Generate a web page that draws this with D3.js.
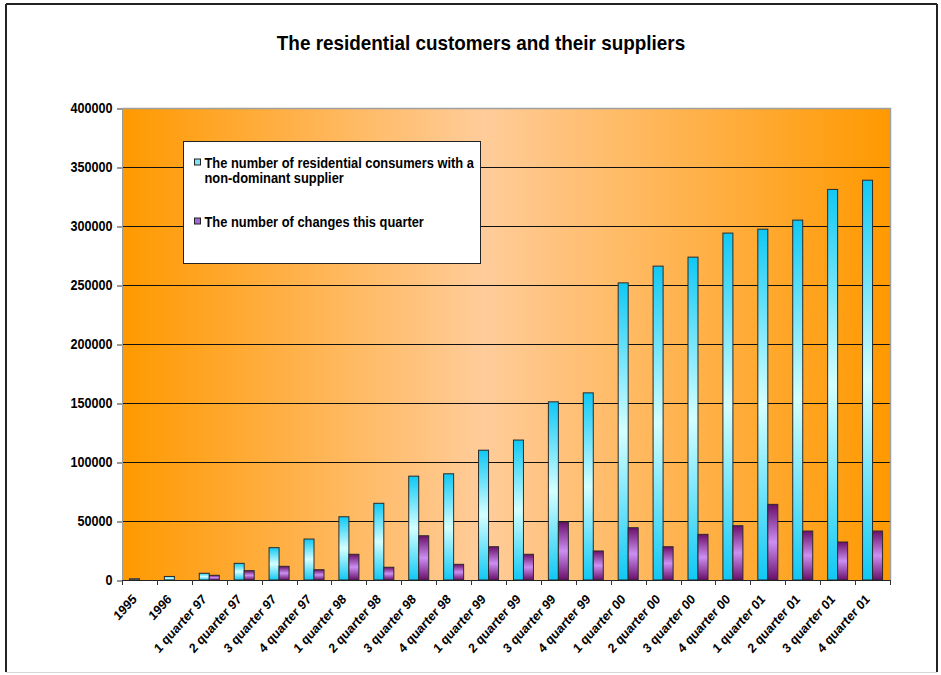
<!DOCTYPE html>
<html>
<head>
<meta charset="utf-8">
<script src="https://cdn.jsdelivr.net/npm/d3@7"></script>
<style>
  html, body { margin: 0; padding: 0; background: #ffffff; }
  svg text { font-family: "Liberation Sans", Arial, sans-serif; font-weight: bold; fill: #000; }
</style>
</head>
<body>
<svg id="chart" width="941" height="675"></svg>
<script>
// Categories along the x axis
const categories = [
  "1995", "1996",
  "1 quarter 97", "2 quarter 97", "3 quarter 97", "4 quarter 97",
  "1 quarter 98", "2 quarter 98", "3 quarter 98", "4 quarter 98",
  "1 quarter 99", "2 quarter 99", "3 quarter 99", "4 quarter 99",
  "1 quarter 00", "2 quarter 00", "3 quarter 00", "4 quarter 00",
  "1 quarter 01", "2 quarter 01", "3 quarter 01", "4 quarter 01"
];

// Residential consumers with a non-dominant supplier
const customers = [
  1000, 3000,
  5700, 14100, 27400, 34700,
  53600, 65000, 88000, 90000,
  110000, 118600, 151000, 158600,
  251800, 266000, 273600, 294000,
  297300, 305000, 331000, 338800
];

// Number of supplier changes in the quarter
const changes = [
  0, 0,
  4000, 7900, 11600, 8700,
  21800, 10800, 37500, 13300,
  28200, 21800, 49100, 24600,
  44300, 28200, 38700, 46000,
  64100, 41500, 32200, 41500
];

const yTicks = [0, 50000, 100000, 150000, 200000, 250000, 300000, 350000, 400000];

const seriesNames = [
  ["The number of residential consumers with a", "non-dominant supplier"],
  ["The number of changes this quarter"]
];

// Horizontal squeeze applied to all text for a condensed look
const squeeze = 0.9;

const svg = d3.select("#chart");
const plot = { left: 122, right: 890, top: 108, bottom: 580 };

const defs = svg.append("defs");

// Plot background: orange at the sides, pale peach towards the middle
const bg = defs.append("linearGradient").attr("id", "bgGrad")
  .attr("x1", "0%").attr("x2", "100%").attr("y1", "0%").attr("y2", "0%");
bg.append("stop").attr("offset", "0%").attr("stop-color", "#ff9900");
bg.append("stop").attr("offset", "47%").attr("stop-color", "#ffcc9a");
bg.append("stop").attr("offset", "100%").attr("stop-color", "#ff9900");

// Bar fills: dark at both ends, light in the middle
function barGradient(id, edge, mid) {
  const g = defs.append("linearGradient").attr("id", id)
    .attr("x1", "0%").attr("x2", "0%").attr("y1", "0%").attr("y2", "100%");
  g.append("stop").attr("offset", "0%").attr("stop-color", edge);
  g.append("stop").attr("offset", "50%").attr("stop-color", mid);
  g.append("stop").attr("offset", "100%").attr("stop-color", edge);
}
barGradient("blueGrad", "#10c8f4", "#d4ffff");
barGradient("purpleGrad", "#6a0f6a", "#cc8ff2");

// Outer frame
svg.append("line").attr("x1", 6).attr("x2", 6).attr("y1", 4).attr("y2", 672)
  .attr("stroke", "#222").attr("stroke-width", 2);
svg.append("line").attr("x1", 6).attr("x2", 937).attr("y1", 4).attr("y2", 4)
  .attr("stroke", "#222").attr("stroke-width", 2);
svg.append("line").attr("x1", 937).attr("x2", 937).attr("y1", 4).attr("y2", 672)
  .attr("stroke", "#222").attr("stroke-width", 2);
svg.append("line").attr("x1", 6).attr("x2", 937).attr("y1", 672.5).attr("y2", 672.5)
  .attr("stroke", "#d8d8d8").attr("stroke-width", 1);

// Title
svg.append("text")
  .attr("transform", `translate(481,50) scale(${squeeze},1)`)
  .attr("text-anchor", "middle").style("font-size", "21px")
  .text("The residential customers and their suppliers");

// Scales
const x = d3.scaleBand().domain(categories).range([plot.left, plot.right]).padding(0);
const y = d3.scaleLinear().domain([0, 400000]).range([plot.bottom, plot.top]);

// Plot area
svg.append("rect")
  .attr("x", plot.left).attr("y", plot.top)
  .attr("width", plot.right - plot.left).attr("height", plot.bottom - plot.top)
  .attr("fill", "url(#bgGrad)");

// Horizontal gridlines
svg.append("g").selectAll("line")
  .data(yTicks.filter(d => d > 0 && d < 400000))
  .join("line")
  .attr("x1", plot.left).attr("x2", plot.right)
  .attr("y1", d => y(d) + 0.5).attr("y2", d => y(d) + 0.5)
  .attr("stroke", "#111").attr("stroke-width", 1);

// Plot border (top and right in grey)
svg.append("path")
  .attr("d", `M${plot.left},${plot.top + 0.5}H${plot.right + 0.5}V${plot.bottom}`)
  .attr("fill", "none").attr("stroke", "#a0a0a0").attr("stroke-width", 1.5);

// Y axis
const yAxis = svg.append("g")
  .attr("transform", `translate(${plot.left},0.5)`)
  .call(d3.axisLeft(y).tickValues(yTicks).tickSize(5).tickSizeOuter(0).tickFormat(d => String(d)));
yAxis.select(".domain").attr("stroke", "#9a9a9a");
yAxis.selectAll(".tick line").attr("stroke", "#333");
yAxis.selectAll(".tick text")
  .attr("x", -9.5 / squeeze)
  .attr("transform", `scale(${squeeze},1)`)
  .style("font-size", "14px")
  .style("font-family", "'Liberation Sans', Arial, sans-serif")
  .style("font-weight", "bold");

// Bars
const bw = 10;
const groups = svg.append("g").selectAll("g")
  .data(categories.map((c, i) => ({ c, cust: customers[i], chg: changes[i] })))
  .join("g");

groups.filter(d => d.cust > 0).append("rect")
  .attr("x", d => x(d.c) + x.bandwidth() / 2 - bw)
  .attr("y", d => y(d.cust))
  .attr("width", bw)
  .attr("height", d => y(0) - y(d.cust))
  .attr("fill", "url(#blueGrad)")
  .attr("stroke", "#2a2a2a").attr("stroke-width", 1);

groups.filter(d => d.chg > 0).append("rect")
  .attr("x", d => x(d.c) + x.bandwidth() / 2)
  .attr("y", d => y(d.chg))
  .attr("width", bw)
  .attr("height", d => y(0) - y(d.chg))
  .attr("fill", "url(#purpleGrad)")
  .attr("stroke", "#2a2a2a").attr("stroke-width", 1);

// X axis line and ticks between categories
svg.append("line")
  .attr("x1", plot.left).attr("x2", plot.right)
  .attr("y1", plot.bottom + 0.5).attr("y2", plot.bottom + 0.5)
  .attr("stroke", "#222").attr("stroke-width", 1.2);
const boundaries = categories.map(c => x(c)).concat([plot.right]);
svg.append("g").selectAll("line")
  .data(boundaries)
  .join("line")
  .attr("x1", d => Math.round(d) + 0.5).attr("x2", d => Math.round(d) + 0.5)
  .attr("y1", plot.bottom).attr("y2", plot.bottom + 5)
  .attr("stroke", "#333");

// Rotated category labels
svg.append("g").selectAll("text")
  .data(categories)
  .join("text")
  .attr("text-anchor", "end")
  .style("font-size", "13.4px")
  .attr("transform", d => `translate(${x(d) + x.bandwidth() / 2 - 2},600) scale(${squeeze},1) rotate(-45)`)
  .text(d => d);

// Legend
const legend = svg.append("g");
legend.append("rect")
  .attr("x", 183.5).attr("y", 141.5).attr("width", 297).attr("height", 122)
  .attr("fill", "#fff").attr("stroke", "#222").attr("stroke-width", 1);

const legendItems = [
  { fill: "#7fe2f4", lines: seriesNames[0], y: 167.5 },
  { fill: "#a268d4", lines: seriesNames[1], y: 226.5 }
];
legendItems.forEach(item => {
  legend.append("rect")
    .attr("x", 194.5).attr("y", item.y - 8.5).attr("width", 6).attr("height", 6)
    .attr("fill", item.fill).attr("stroke", "#222").attr("stroke-width", 1);
  const t = legend.append("text")
    .attr("transform", `translate(204.5,${item.y}) scale(${squeeze},1)`)
    .style("font-size", "14.3px");
  item.lines.forEach((ln, i) => {
    t.append("tspan").attr("x", 0).attr("dy", i === 0 ? 0 : 16).text(ln);
  });
});
</script>
</body>
</html>
